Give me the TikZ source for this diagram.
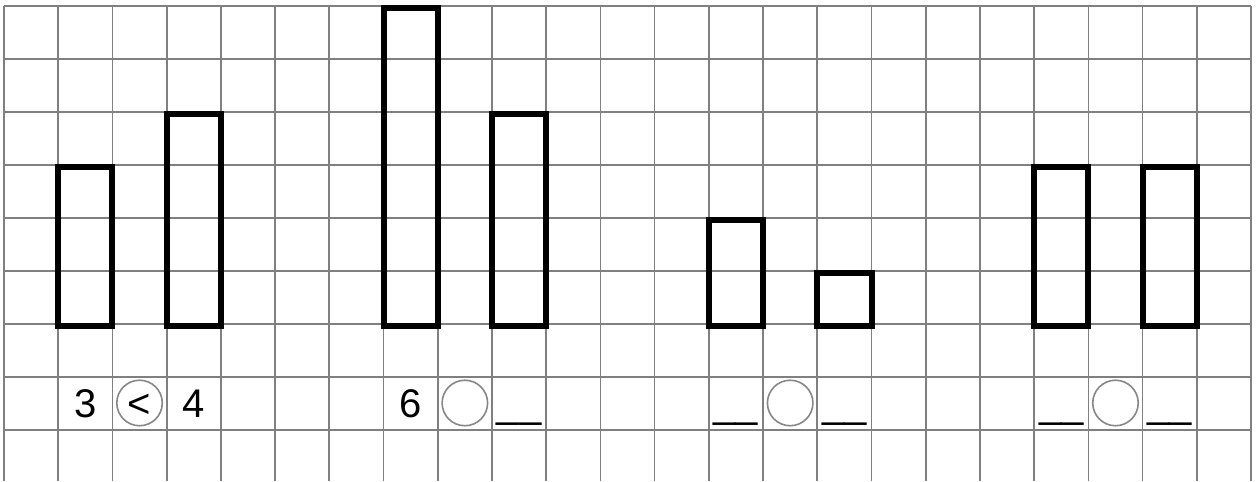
\documentclass[tikz,border=0pt]{standalone}
\usepackage{fontspec}
\setmainfont{Liberation Sans}
\begin{document}
\begin{tikzpicture}[x=54.217pt, y=-53pt,
  gridline/.style={draw=black!50, line width=1.7pt},
  bar/.style={draw=black, line width=6pt},
  cmp/.style={circle, draw=black!47, line width=1.6pt, minimum size=45.5pt, inner sep=0pt},
  num/.style={font=\fontsize{40}{48}\selectfont, anchor=base, inner sep=0pt}]
\useasboundingbox (-0.0738,-0.1132) rectangle (23.147,8.962);
% grid
\foreach \i in {0,...,23} \draw[gridline] (\i,0) -- (\i,8.962);
\foreach \j in {0,...,8} \draw[gridline] (0,\j) -- (23,\j);
% bars
\begin{scope}[yshift=-2pt]
\draw[bar] (1,3) rectangle (2,6);
\draw[bar] (3,2) rectangle (4,6);
\draw[bar] (7,0) rectangle (8,6);
\draw[bar] (9,2) rectangle (10,6);
\draw[bar] (13,4) rectangle (14,6);
\draw[bar] (15,5) rectangle (16,6);
\draw[bar] (19,3) rectangle (20,6);
\draw[bar] (21,3) rectangle (22,6);
\end{scope}
% comparisons
\node[cmp, fill=white] (c1) at (2.5,7.49) {};
\node[cmp, fill=white] (c2) at (8.5,7.49) {};
\node[cmp, fill=white] (c3) at (14.5,7.49) {};
\node[cmp, fill=white] (c4) at (20.5,7.49) {};
\node[num] (a1) at (1.5,7.755) {3};
\node[num] (s1) at (2.5,7.755) {<};
\node[num] (b1) at (3.5,7.755) {4};
\node[num] (a2) at (7.5,7.755) {6};
\node[num] (b2) at (9.5,7.755) {\_\_};
\node[num] (a3) at (13.5,7.755) {\_\_};
\node[num] (b3) at (15.5,7.755) {\_\_};
\node[num] (a4) at (19.5,7.755) {\_\_};
\node[num] (b4) at (21.5,7.755) {\_\_};
\end{tikzpicture}
\end{document}
